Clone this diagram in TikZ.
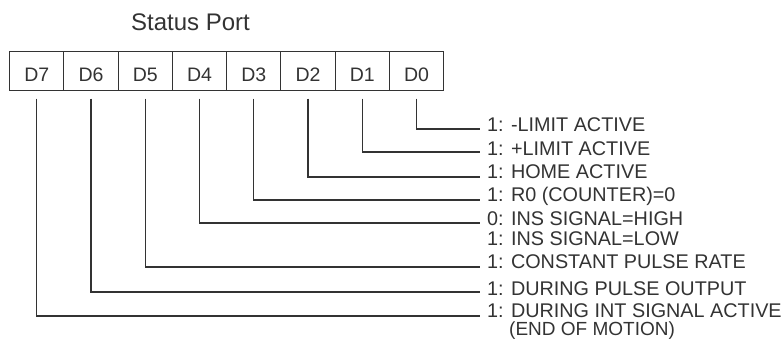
\documentclass[tikz,border=0pt]{standalone}
\usepackage{fontspec}
\setmainfont{Liberation Sans}
\definecolor{ink}{HTML}{333333}
\begin{document}
\begin{tikzpicture}[x=1pt,y=-1pt,
  cell/.style={draw=ink,line width=1.2pt,minimum width=54.25pt,inner sep=0pt,
    text height=30pt,text depth=9.3pt,font=\fontsize{19.5}{22}\selectfont,text=ink},
  lbl/.style={anchor=base west,inner sep=0pt,font=\fontsize{19.8}{22}\selectfont,text=ink},
  conn/.style={draw=ink,line width=1.2pt}]
\useasboundingbox (0,0) rectangle (784,340);
\node[anchor=base west,inner sep=0pt,font=\fontsize{24}{28}\selectfont,text=ink] (title) at (131,30.7) {Status Port};
\foreach \i/\n in {0/7,1/6,2/5,3/4,4/3,5/2,6/1,7/0}{
  \node[cell,anchor=north west] (c\n) at ({9+54.25*\i},50.7) {D\n};
}
% labels
\node[lbl] (t0) at (487,131.7) {1: -LIMIT ACTIVE};
\node[lbl] (t1) at (487,155) {1: +LIMIT ACTIVE};
\node[lbl] (t2) at (487,178.3) {1: HOME ACTIVE};
\node[lbl] (t3) at (487,201.7) {1: R0 (COUNTER)=0};
\node[lbl] (t4) at (487,225) {0: INS SIGNAL=HIGH};
\node[lbl] (t4b) at (487,245) {1: INS SIGNAL=LOW};
\node[lbl] (t5) at (487,268.3) {1: CONSTANT PULSE RATE};
\node[lbl] (t6) at (487,295) {1: DURING PULSE OUTPUT};
\node[lbl] (t7) at (487,317.5) {1: DURING INT SIGNAL ACTIVE};
\node[lbl,font=\fontsize{19}{22}\selectfont] (t7b) at (509,335.8) {(END OF MOTION)};
% connector ends
\foreach \n/\y in {0/129,1/152,2/177,3/200,4/223,5/267,6/292,7/316}{
  \coordinate (e\n) at (480,\y);
  \draw[conn] ([yshift=-7.3pt]c\n.south) |- (e\n);
}
\end{tikzpicture}
\end{document}
